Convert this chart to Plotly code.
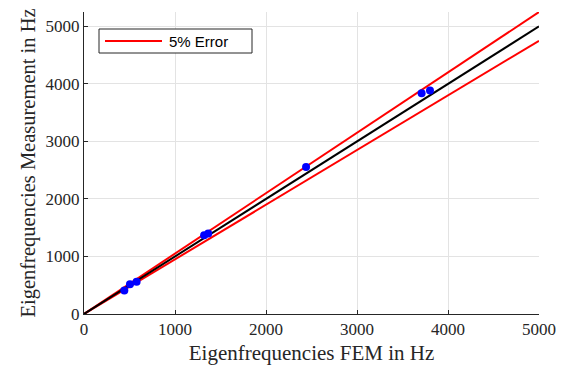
import plotly.graph_objects as go

# Measured vs. simulated eigenfrequencies (Hz)
fem_hz = [443, 505, 578, 1320, 1365, 2440, 3710, 3802]
meas_hz = [410, 516, 560, 1370, 1400, 2557, 3838, 3885]

# Reference line range and tolerance band
ref_range = [0, 5000]
tolerance = 0.05

x_ticks = [0, 1000, 2000, 3000, 4000, 5000]
y_ticks = [0, 1000, 2000, 3000, 4000, 5000]

text_color = "#262626"
serif = "Liberation Serif, Times New Roman, serif"

fig = go.Figure()

# +/- 5 % error band
fig.add_trace(go.Scatter(
    x=ref_range, y=[v * (1 + tolerance) for v in ref_range],
    mode="lines", line=dict(color="#ff0000", width=2),
    name="5% Error", showlegend=False, hoverinfo="skip"))
fig.add_trace(go.Scatter(
    x=ref_range, y=[v * (1 - tolerance) for v in ref_range],
    mode="lines", line=dict(color="#ff0000", width=2),
    showlegend=False, hoverinfo="skip"))

# Ideal agreement
fig.add_trace(go.Scatter(
    x=ref_range, y=ref_range,
    mode="lines", line=dict(color="#000000", width=2),
    showlegend=False, hoverinfo="skip"))

# Measured points
fig.add_trace(go.Scatter(
    x=fem_hz, y=meas_hz, mode="markers",
    marker=dict(color="#0000ff", size=8, line=dict(width=0)),
    showlegend=False))

axis_common = dict(
    showgrid=True, gridcolor="#e3e3e3", gridwidth=1,
    zeroline=False, showline=True, linecolor=text_color, linewidth=1,
    ticks="inside", ticklen=4, tickcolor=text_color,
    tickfont=dict(family=serif, size=17, color=text_color),
    mirror=False,
)

fig.update_xaxes(
    range=[0, 5000], tickvals=x_ticks, ticktext=[str(v) for v in x_ticks],
    title=dict(text="Eigenfrequencies FEM in Hz",
               font=dict(family=serif, size=21, color=text_color), standoff=6),
    **axis_common)
fig.update_yaxes(
    range=[0, 5250], tickvals=y_ticks, ticktext=[str(v) for v in y_ticks],
    title=dict(text="Eigenfrequencies Measurement in Hz",
               font=dict(family=serif, size=20.5, color=text_color), standoff=4),
    **axis_common)

# Legend box drawn in paper coordinates
plot_l, plot_r, plot_t, plot_b = 84, 539, 12, 314
W, H = 575, 374
pw, ph = plot_r - plot_l, plot_b - plot_t

def px(x):
    return (x - plot_l) / pw

def py(y):
    return (plot_b - y) / ph

fig.add_shape(type="rect", xref="paper", yref="paper",
              x0=px(99), x1=px(252), y0=py(53), y1=py(29),
              line=dict(color=text_color, width=1), fillcolor="white", layer="above")
fig.add_shape(type="line", xref="paper", yref="paper",
              x0=px(105), x1=px(162), y0=py(41), y1=py(41),
              line=dict(color="#ff0000", width=2), layer="above")
fig.add_annotation(xref="paper", yref="paper", x=px(167), y=py(41),
                   text="5% Error", showarrow=False, xanchor="left", yanchor="middle",
                   font=dict(family="Liberation Sans, Arial, sans-serif", size=15, color="#000000"))

fig.update_layout(
    width=W, height=H,
    margin=dict(l=plot_l, r=W - plot_r, t=plot_t, b=H - plot_b),
    plot_bgcolor="white", paper_bgcolor="white",
)

fig.write_html("out.html")
